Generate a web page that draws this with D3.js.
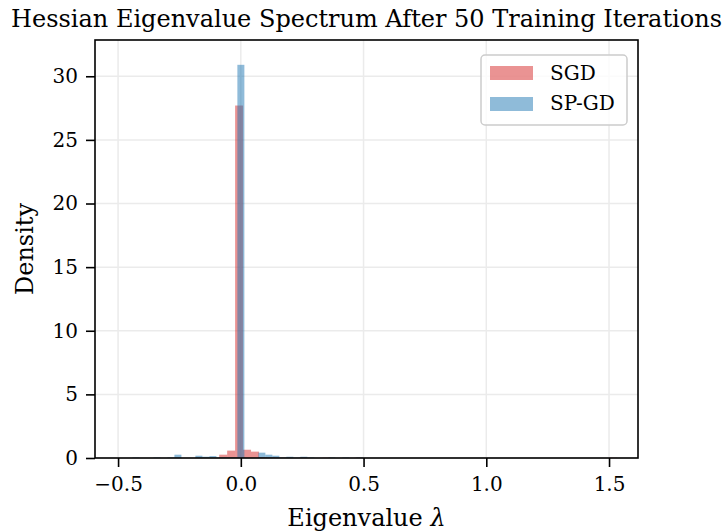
<!DOCTYPE html>
<html>
<head>
<meta charset="utf-8">
<script src="https://cdn.jsdelivr.net/npm/d3@7"></script>
<style>
  body { margin: 0; background: #fff; }
  text { font-family: "DejaVu Serif", serif; }
</style>
</head>
<body>
<svg id="chart"></svg>
<script>
// histogram data (density per bin)
let sgdStart = -0.088;
let sgdWidth = 0.0324;
let sgdDensity = [
    0.26, 0.58, 27.7, 0.65, 0.5, 0.06, 0.04, 0.02, 0.02, 0.0,
    0.02, 0.0, 0.0, 0.02, 0.0, 0.0, 0.0, 0.02, 0.0, 0.0,
    0.0, 0.0, 0.0, 0.0, 0.0, 0.0, 0.0, 0.0, 0.0, 0.0,
    0.0, 0.0, 0.0, 0.0, 0.0, 0.0, 0.0, 0.0, 0.0, 0.0,
    0.0, 0.0, 0.0, 0.0, 0.0, 0.0, 0.0, 0.0, 0.0, 0.02
];
let spgdStart = -0.4985;
let spgdWidth = 0.0285;
let spgdDensity = [
    0.0, 0.0, 0.04, 0.0, 0.0, 0.04, 0.0, 0.04, 0.26, 0.0,
    0.0, 0.18, 0.1, 0.15, 0.04, 0.05, 0.05, 30.9, 0.0, 0.0,
    0.42, 0.26, 0.18, 0.04, 0.1, 0.03, 0.1, 0.04, 0.0, 0.0,
    0.04, 0.0, 0.04, 0.0, 0.04
];
let xTicks = [-0.5, 0.0, 0.5, 1.0, 1.5];
let yTicks = [0, 5, 10, 15, 20, 25, 30];
let seriesNames = ["SGD", "SP-GD"];
let seriesColors = ["#d62728", "#1f77b4"];

let W = 723, H = 531;
let margin = {top: 40, right: 85, bottom: 73, left: 95},
    width = W - margin.left - margin.right,
    height = H - margin.top - margin.bottom;

let root = d3.select("#chart").attr("width", W).attr("height", H);
let svg = root.append("g")
    .attr("transform", "translate(" + margin.left + "," + margin.top + ")");

let x = d3.scaleLinear().domain([-0.594, 1.618]).range([0, width]);
let y = d3.scaleLinear().domain([0, 32.85]).range([height, 0]);

// grid
svg.append("g").selectAll("line").data(xTicks).enter().append("line")
    .attr("x1", d => x(d)).attr("x2", d => x(d))
    .attr("y1", 0).attr("y2", height)
    .attr("stroke", "#ebebeb").attr("stroke-width", 1.5);
svg.append("g").selectAll("line").data(yTicks).enter().append("line")
    .attr("x1", 0).attr("x2", width)
    .attr("y1", d => y(d)).attr("y2", d => y(d))
    .attr("stroke", "#ebebeb").attr("stroke-width", 1.5);

function toBins(start, w, dens) {
    return dens.map(function (d, i) {
        return {x0: start + i * w, x1: start + (i + 1) * w, v: d};
    });
}

let series = [toBins(sgdStart, sgdWidth, sgdDensity), toBins(spgdStart, spgdWidth, spgdDensity)];
series.forEach(function (bins, si) {
    svg.append("g").selectAll("rect").data(bins.filter(b => b.v > 0)).enter().append("rect")
        .attr("x", d => x(d.x0))
        .attr("width", d => x(d.x1) - x(d.x0))
        .attr("y", d => y(d.v))
        .attr("height", d => y(0) - y(d.v))
        .attr("fill", seriesColors[si])
        .attr("fill-opacity", 0.5);
});

// axes
let fmt = d => d3.format(".1f")(d).replace("-", "\u2212");
let xAxis = svg.append("g")
    .attr("transform", "translate(0," + height + ")")
    .call(d3.axisBottom(x).tickValues(xTicks).tickFormat(fmt).tickSize(9).tickPadding(10));
let yAxis = svg.append("g")
    .call(d3.axisLeft(y).tickValues(yTicks).tickSize(9).tickPadding(8));
[xAxis, yAxis].forEach(function (a) {
    a.select(".domain").remove();
    a.selectAll(".tick line").attr("stroke", "#000").attr("stroke-width", 1.6);
    a.selectAll(".tick text").attr("font-family", "DejaVu Serif").attr("font-size", 20).attr("fill", "#000");
});

svg.append("rect")
    .attr("width", width).attr("height", height)
    .attr("fill", "none").attr("stroke", "#000").attr("stroke-width", 1.6);

// labels
root.append("text")
    .attr("x", margin.left + width / 2).attr("y", 27)
    .attr("text-anchor", "middle").attr("font-size", 24)
    .text("Hessian Eigenvalue Spectrum After 50 Training Iterations");
let xl = root.append("text")
    .attr("x", margin.left + width / 2).attr("y", 526)
    .attr("text-anchor", "middle").attr("font-size", 24);
xl.append("tspan").text("Eigenvalue ");
xl.append("tspan").attr("font-style", "italic").text("\u03bb");
root.append("text")
    .attr("transform", "translate(33," + (margin.top + height / 2) + ") rotate(-90)")
    .attr("text-anchor", "middle").attr("font-size", 24)
    .text("Density");

// legend
let lg = svg.append("g").attr("transform", "translate(" + (481 - margin.left) + "," + (55 - margin.top) + ")");
lg.append("rect")
    .attr("width", 146).attr("height", 70).attr("rx", 4)
    .attr("fill", "#fff").attr("fill-opacity", 0.8)
    .attr("stroke", "#cccccc").attr("stroke-width", 1.5);
seriesNames.forEach(function (name, i) {
    lg.append("rect")
        .attr("x", 9).attr("y", 11 + i * 31)
        .attr("width", 43).attr("height", 14)
        .attr("fill", seriesColors[i]).attr("fill-opacity", 0.5);
    lg.append("text")
        .attr("x", 69).attr("y", 25 + i * 30)
        .attr("font-size", 20)
        .text(name);
});
</script>
</body>
</html>
